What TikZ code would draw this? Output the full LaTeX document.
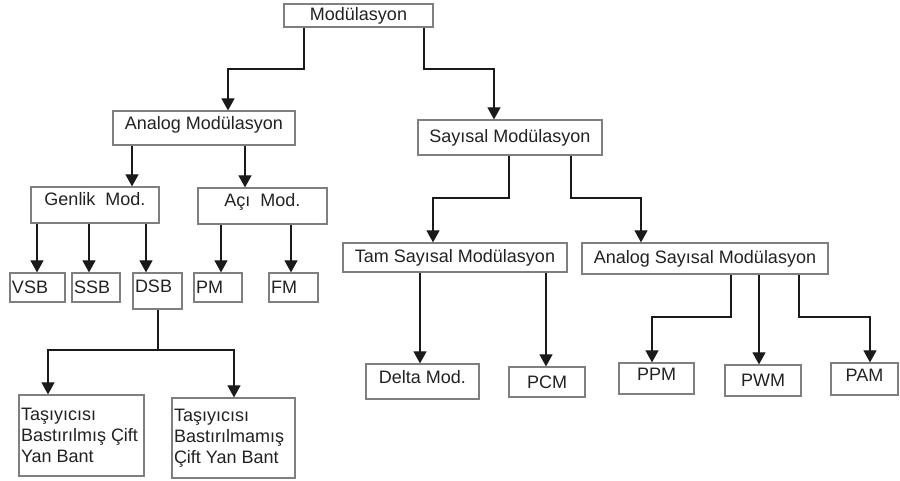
\documentclass[tikz,border=0pt]{standalone}
\usepackage{fontspec}
\setmainfont{Liberation Sans}
\usetikzlibrary{arrows.meta, positioning}
\definecolor{boxLine}{HTML}{7F7F7F}
\definecolor{lineDark}{HTML}{1A1A1A}
\definecolor{textDark}{HTML}{222222}
\tikzset{
  arrowK/.style={-{Triangle[length=12pt, width=13pt]}, color=lineDark, line width=1.1pt},
  lineK/.style={color=lineDark, line width=1.1pt},
  modbox/.style={rectangle, draw=boxLine, line width=1.2pt, fill=white, text=textDark,
                 align=center, inner sep=2pt},
  leftbox/.style={modbox, align=left, text badly ragged},
}
\begin{document}
\begin{tikzpicture}[x=1pt, y=-1pt, font=\fontsize{18}{21}\selectfont]
    \useasboundingbox (0,0) rectangle (900,481);
    % top
    \node[modbox, minimum width=149, minimum height=23] (mod) at (358.5,15.5) {Modülasyon};
    \node[modbox, minimum width=182, minimum height=34, text depth=10pt] (analog) at (204,128) {Analog Modülasyon};
    \node[modbox, minimum width=184, minimum height=35] (sayisal) at (510,137.5) {Sayısal Modülasyon};
    % analog side
    \node[modbox, minimum width=128, minimum height=36, text depth=13pt] (genlik) at (95,205) {Genlik\ \ Mod.};
    \node[modbox, minimum width=129, minimum height=36, text depth=13pt] (aci) at (262.5,206) {Açı\ \ Mod.};
    \node[leftbox, text width=51, minimum height=29] (vsb) at (37.5,287.5) {VSB};
    \node[leftbox, text width=44, minimum height=29] (ssb) at (96,287.5) {SSB};
    \node[leftbox, text width=45, text height=17pt, text depth=15pt] (dsb) at (157.5,291) {DSB};
    \node[leftbox, text width=44, minimum height=29] (pm) at (218,287.5) {PM};
    \node[leftbox, text width=45, minimum height=29] (fm) at (293.5,287.5) {FM};
    \node[leftbox, text width=121, minimum height=81] (tas1) at (81.5,435.5)
      {Taşıyıcısı\\Bastırılmış Çift\\Yan Bant};
    \node[leftbox, text width=119, minimum height=80] (tas2) at (233.5,438)
      {Taşıyıcısı\\Bastırılmamış\\Çift Yan Bant};
    % sayisal side
    \node[modbox, minimum width=224, minimum height=29] (tam) at (455,257.5) {Tam Sayısal Modülasyon};
    \node[modbox, minimum width=246, minimum height=31] (ans) at (705,258.5) {Analog Sayısal Modülasyon};
    \node[modbox, minimum width=113, minimum height=35, text depth=10pt] (delta) at (422.5,381.5) {Delta Mod.};
    \node[modbox, minimum width=76, minimum height=30] (pcm) at (547,382) {PCM};
    \node[modbox, minimum width=75, minimum height=31, text depth=8pt] (ppm) at (656.5,378.5) {PPM};
    \node[modbox, minimum width=76, minimum height=31] (pwm) at (763,380.5) {PWM};
    \node[modbox, minimum width=67, minimum height=32, text depth=8pt] (pam) at (864.5,379) {PAM};
    % connectors
    \draw[arrowK] (304,0 |- mod.south) -- (304,69) -| (228,0 |- analog.north);
    \draw[arrowK] (424,0 |- mod.south) -- (424,69) -| (494,0 |- sayisal.north);
    \draw[arrowK] (132,0 |- analog.south) -- (132,0 |- genlik.north);
    \draw[arrowK] (245,0 |- analog.south) -- (245,0 |- aci.north);
    \draw[arrowK] (37,0 |- genlik.south) -- (37,0 |- vsb.north);
    \draw[arrowK] (89,0 |- genlik.south) -- (89,0 |- ssb.north);
    \draw[arrowK] (146,0 |- genlik.south) -- (146,0 |- dsb.north);
    \draw[arrowK] (221,0 |- aci.south) -- (221,0 |- pm.north);
    \draw[arrowK] (291,0 |- aci.south) -- (291,0 |- fm.north);
    \coordinate (split) at (158,350);
    \draw[lineK] (158,0 |- dsb.south) -- (split);
    \draw[arrowK] (split) -| (48,0 |- tas1.north);
    \draw[arrowK] (split) -| (234,0 |- tas2.north);
    \draw[arrowK] (509,0 |- sayisal.south) -- (509,198) -| (433,0 |- tam.north);
    \draw[arrowK] (571,0 |- sayisal.south) -- (571,198) -| (641,0 |- ans.north);
    \draw[arrowK] (420,0 |- tam.south) -- (420,0 |- delta.north);
    \draw[arrowK] (546,0 |- tam.south) -- (546,0 |- pcm.north);
    \draw[arrowK] (731,0 |- ans.south) -- (731,317) -| (652,0 |- ppm.north);
    \draw[arrowK] (759,0 |- ans.south) -- (759,0 |- pwm.north);
    \draw[arrowK] (799,0 |- ans.south) -- (799,317) -| (870,0 |- pam.north);
\end{tikzpicture}
\end{document}
